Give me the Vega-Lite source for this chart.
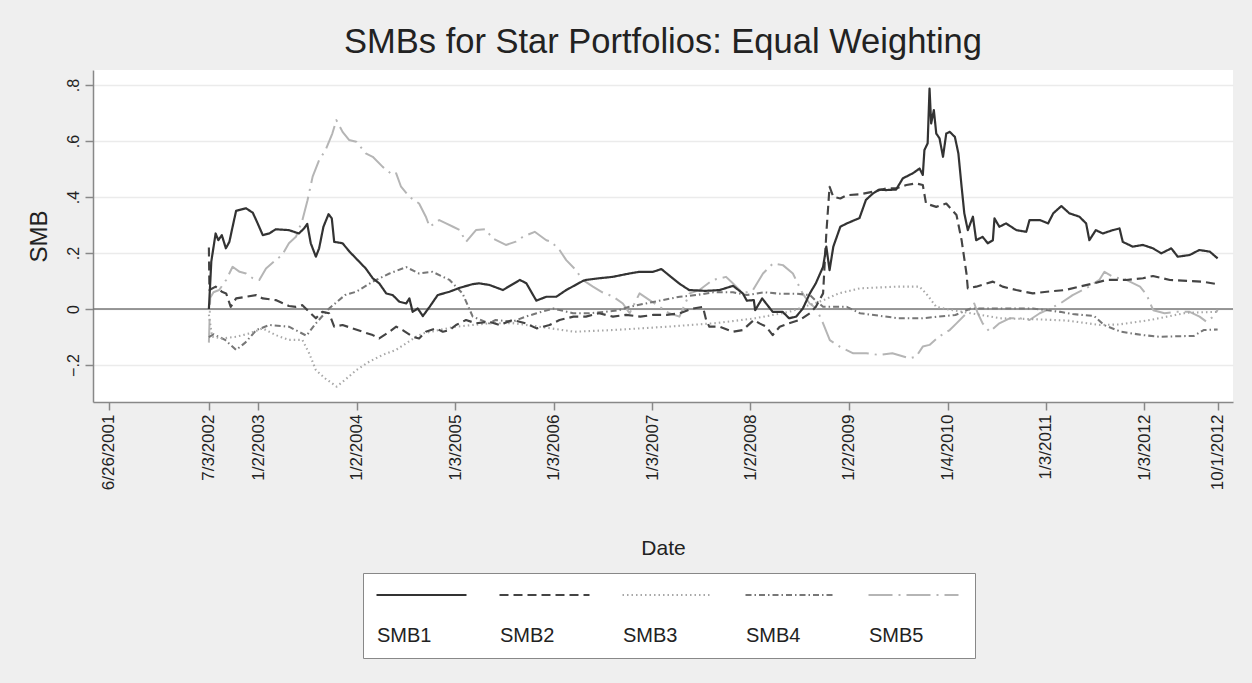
{
  "$schema": "https://vega.github.io/schema/vega-lite/v6.json",
  "width": 1140,
  "height": 332,
  "autosize": {"type": "none"},
  "padding": {"left": 93, "top": 70, "right": 19, "bottom": 281},
  "background": "#efefef",
  "config": {
    "view": {"fill": "white", "stroke": null},
    "font": "Liberation Sans"
  },
  "title": {
    "text": "SMBs for Star Portfolios: Equal Weighting",
    "fontSize": 34.5,
    "fontWeight": "normal",
    "color": "#222",
    "anchor": "middle",
    "offset": 10
  },
  "layer": [
    {
      "data": {"values": [{"smb": 0}]},
      "mark": {"type": "rule", "color": "#777", "strokeWidth": 1.6},
      "encoding": {"y": {"field": "smb", "type": "quantitative"}}
    },
    {
      "data": {
        "values": [
          {"series":"SMB5","date":"2002-07-03","smb":-0.12},
          {"series":"SMB5","date":"2002-07-08","smb":0.04},
          {"series":"SMB5","date":"2002-07-20","smb":0.06},
          {"series":"SMB5","date":"2002-08-10","smb":0.068},
          {"series":"SMB5","date":"2002-09-05","smb":0.104},
          {"series":"SMB5","date":"2002-09-29","smb":0.151},
          {"series":"SMB5","date":"2002-10-25","smb":0.133},
          {"series":"SMB5","date":"2002-11-18","smb":0.127},
          {"series":"SMB5","date":"2002-12-13","smb":0.11},
          {"series":"SMB5","date":"2003-01-06","smb":0.104},
          {"series":"SMB5","date":"2003-01-31","smb":0.145},
          {"series":"SMB5","date":"2003-03-08","smb":0.175},
          {"series":"SMB5","date":"2003-04-01","smb":0.193},
          {"series":"SMB5","date":"2003-04-26","smb":0.235},
          {"series":"SMB5","date":"2003-05-22","smb":0.258},
          {"series":"SMB5","date":"2003-06-15","smb":0.318},
          {"series":"SMB5","date":"2003-07-04","smb":0.389},
          {"series":"SMB5","date":"2003-07-23","smb":0.473},
          {"series":"SMB5","date":"2003-08-16","smb":0.532},
          {"series":"SMB5","date":"2003-09-09","smb":0.568},
          {"series":"SMB5","date":"2003-10-04","smb":0.627},
          {"series":"SMB5","date":"2003-10-19","smb":0.675},
          {"series":"SMB5","date":"2003-11-11","smb":0.633},
          {"series":"SMB5","date":"2003-12-05","smb":0.604},
          {"series":"SMB5","date":"2004-01-01","smb":0.598},
          {"series":"SMB5","date":"2004-02-05","smb":0.556},
          {"series":"SMB5","date":"2004-03-02","smb":0.544},
          {"series":"SMB5","date":"2004-04-08","smb":0.508},
          {"series":"SMB5","date":"2004-05-15","smb":0.479},
          {"series":"SMB5","date":"2004-05-28","smb":0.485},
          {"series":"SMB5","date":"2004-06-15","smb":0.437},
          {"series":"SMB5","date":"2004-07-16","smb":0.401},
          {"series":"SMB5","date":"2004-08-21","smb":0.377},
          {"series":"SMB5","date":"2004-09-15","smb":0.33},
          {"series":"SMB5","date":"2004-09-29","smb":0.294},
          {"series":"SMB5","date":"2004-11-04","smb":0.318},
          {"series":"SMB5","date":"2004-11-29","smb":0.306},
          {"series":"SMB5","date":"2004-12-25","smb":0.294},
          {"series":"SMB5","date":"2005-01-19","smb":0.282},
          {"series":"SMB5","date":"2005-02-11","smb":0.24},
          {"series":"SMB5","date":"2005-03-20","smb":0.282},
          {"series":"SMB5","date":"2005-04-25","smb":0.285},
          {"series":"SMB5","date":"2005-05-20","smb":0.253},
          {"series":"SMB5","date":"2005-07-09","smb":0.229},
          {"series":"SMB5","date":"2005-08-15","smb":0.241},
          {"series":"SMB5","date":"2005-09-10","smb":0.258},
          {"series":"SMB5","date":"2005-10-24","smb":0.276},
          {"series":"SMB5","date":"2005-12-06","smb":0.246},
          {"series":"SMB5","date":"2005-12-24","smb":0.241},
          {"series":"SMB5","date":"2006-01-24","smb":0.211},
          {"series":"SMB5","date":"2006-02-18","smb":0.175},
          {"series":"SMB5","date":"2006-03-26","smb":0.139},
          {"series":"SMB5","date":"2006-04-20","smb":0.104},
          {"series":"SMB5","date":"2006-05-28","smb":0.08},
          {"series":"SMB5","date":"2006-07-02","smb":0.06},
          {"series":"SMB5","date":"2006-08-10","smb":0.045},
          {"series":"SMB5","date":"2006-09-16","smb":0.02},
          {"series":"SMB5","date":"2006-10-11","smb":-0.015},
          {"series":"SMB5","date":"2006-11-17","smb":0.056},
          {"series":"SMB5","date":"2006-12-24","smb":0.032},
          {"series":"SMB5","date":"2007-01-31","smb":0.008},
          {"series":"SMB5","date":"2007-03-07","smb":-0.015},
          {"series":"SMB5","date":"2007-04-14","smb":-0.027},
          {"series":"SMB5","date":"2007-05-22","smb":0.056},
          {"series":"SMB5","date":"2007-06-27","smb":0.068},
          {"series":"SMB5","date":"2007-08-16","smb":0.104},
          {"series":"SMB5","date":"2007-10-04","smb":0.115},
          {"series":"SMB5","date":"2007-10-29","smb":0.092},
          {"series":"SMB5","date":"2007-12-06","smb":0.056},
          {"series":"SMB5","date":"2008-01-12","smb":0.068},
          {"series":"SMB5","date":"2008-02-18","smb":0.127},
          {"series":"SMB5","date":"2008-03-26","smb":0.163},
          {"series":"SMB5","date":"2008-05-02","smb":0.157},
          {"series":"SMB5","date":"2008-06-08","smb":0.127},
          {"series":"SMB5","date":"2008-07-14","smb":0.056},
          {"series":"SMB5","date":"2008-08-09","smb":0.02},
          {"series":"SMB5","date":"2008-09-03","smb":0.002},
          {"series":"SMB5","date":"2008-09-28","smb":-0.051},
          {"series":"SMB5","date":"2008-10-23","smb":-0.111},
          {"series":"SMB5","date":"2008-11-30","smb":-0.135},
          {"series":"SMB5","date":"2009-01-18","smb":-0.158},
          {"series":"SMB5","date":"2009-03-07","smb":-0.158},
          {"series":"SMB5","date":"2009-04-25","smb":-0.164},
          {"series":"SMB5","date":"2009-06-12","smb":-0.158},
          {"series":"SMB5","date":"2009-08-15","smb":-0.176},
          {"series":"SMB5","date":"2009-09-08","smb":-0.17},
          {"series":"SMB5","date":"2009-10-03","smb":-0.134},
          {"series":"SMB5","date":"2009-10-28","smb":-0.128},
          {"series":"SMB5","date":"2009-12-01","smb":-0.099},
          {"series":"SMB5","date":"2010-01-11","smb":-0.075},
          {"series":"SMB5","date":"2010-02-05","smb":-0.051},
          {"series":"SMB5","date":"2010-03-14","smb":-0.015},
          {"series":"SMB5","date":"2010-04-12","smb":0.02},
          {"series":"SMB5","date":"2010-04-25","smb":-0.015},
          {"series":"SMB5","date":"2010-05-13","smb":-0.051},
          {"series":"SMB5","date":"2010-06-08","smb":-0.081},
          {"series":"SMB5","date":"2010-07-14","smb":-0.051},
          {"series":"SMB5","date":"2010-08-21","smb":-0.033},
          {"series":"SMB5","date":"2010-09-28","smb":-0.033},
          {"series":"SMB5","date":"2010-11-03","smb":-0.039},
          {"series":"SMB5","date":"2010-12-11","smb":-0.015},
          {"series":"SMB5","date":"2011-01-18","smb":0.002},
          {"series":"SMB5","date":"2011-02-25","smb":0.02},
          {"series":"SMB5","date":"2011-04-12","smb":0.05},
          {"series":"SMB5","date":"2011-06-01","smb":0.074},
          {"series":"SMB5","date":"2011-07-20","smb":0.104},
          {"series":"SMB5","date":"2011-08-08","smb":0.133},
          {"series":"SMB5","date":"2011-09-08","smb":0.115},
          {"series":"SMB5","date":"2011-10-28","smb":0.104},
          {"series":"SMB5","date":"2011-12-18","smb":0.08},
          {"series":"SMB5","date":"2012-01-12","smb":0.05},
          {"series":"SMB5","date":"2012-01-25","smb":0.02},
          {"series":"SMB5","date":"2012-02-05","smb":-0.004},
          {"series":"SMB5","date":"2012-03-18","smb":-0.015},
          {"series":"SMB5","date":"2012-05-01","smb":-0.01},
          {"series":"SMB5","date":"2012-06-19","smb":-0.01},
          {"series":"SMB5","date":"2012-07-26","smb":-0.027},
          {"series":"SMB5","date":"2012-08-20","smb":-0.045},
          {"series":"SMB5","date":"2012-09-15","smb":-0.027},
          {"series":"SMB5","date":"2012-10-01","smb":-0.003},

          {"series":"SMB4","date":"2002-07-03","smb":-0.10},
          {"series":"SMB4","date":"2002-07-20","smb":-0.09},
          {"series":"SMB4","date":"2002-09-01","smb":-0.11},
          {"series":"SMB4","date":"2002-10-12","smb":-0.146},
          {"series":"SMB4","date":"2002-11-15","smb":-0.12},
          {"series":"SMB4","date":"2002-12-26","smb":-0.075},
          {"series":"SMB4","date":"2003-02-12","smb":-0.057},
          {"series":"SMB4","date":"2003-04-26","smb":-0.063},
          {"series":"SMB4","date":"2003-06-30","smb":-0.095},
          {"series":"SMB4","date":"2003-08-04","smb":-0.051},
          {"series":"SMB4","date":"2003-09-22","smb":0.002},
          {"series":"SMB4","date":"2003-11-20","smb":0.05},
          {"series":"SMB4","date":"2004-01-01","smb":0.062},
          {"series":"SMB4","date":"2004-03-02","smb":0.098},
          {"series":"SMB4","date":"2004-05-03","smb":0.127},
          {"series":"SMB4","date":"2004-07-04","smb":0.15},
          {"series":"SMB4","date":"2004-08-21","smb":0.127},
          {"series":"SMB4","date":"2004-10-10","smb":0.133},
          {"series":"SMB4","date":"2004-12-12","smb":0.104},
          {"series":"SMB4","date":"2005-01-29","smb":0.056},
          {"series":"SMB4","date":"2005-03-08","smb":-0.027},
          {"series":"SMB4","date":"2005-05-08","smb":-0.051},
          {"series":"SMB4","date":"2005-06-01","smb":-0.039},
          {"series":"SMB4","date":"2005-08-03","smb":-0.045},
          {"series":"SMB4","date":"2005-09-20","smb":-0.027},
          {"series":"SMB4","date":"2005-10-31","smb":-0.015},
          {"series":"SMB4","date":"2006-01-01","smb":0.002},
          {"series":"SMB4","date":"2006-03-15","smb":-0.015},
          {"series":"SMB4","date":"2006-05-15","smb":-0.015},
          {"series":"SMB4","date":"2006-07-12","smb":-0.01},
          {"series":"SMB4","date":"2006-09-01","smb":-0.004},
          {"series":"SMB4","date":"2006-10-10","smb":0.008},
          {"series":"SMB4","date":"2006-12-10","smb":0.02},
          {"series":"SMB4","date":"2007-02-10","smb":0.032},
          {"series":"SMB4","date":"2007-04-15","smb":0.044},
          {"series":"SMB4","date":"2007-06-15","smb":0.05},
          {"series":"SMB4","date":"2007-08-18","smb":0.06},
          {"series":"SMB4","date":"2007-10-30","smb":0.06},
          {"series":"SMB4","date":"2007-12-20","smb":0.05},
          {"series":"SMB4","date":"2008-02-20","smb":0.06},
          {"series":"SMB4","date":"2008-04-20","smb":0.055},
          {"series":"SMB4","date":"2008-06-20","smb":0.055},
          {"series":"SMB4","date":"2008-08-10","smb":0.05},
          {"series":"SMB4","date":"2008-09-01","smb":0.03},
          {"series":"SMB4","date":"2008-09-28","smb":0.008},
          {"series":"SMB4","date":"2008-11-05","smb":0.008},
          {"series":"SMB4","date":"2008-12-25","smb":0.008},
          {"series":"SMB4","date":"2009-02-12","smb":-0.015},
          {"series":"SMB4","date":"2009-07-05","smb":-0.033},
          {"series":"SMB4","date":"2009-10-01","smb":-0.033},
          {"series":"SMB4","date":"2009-12-01","smb":-0.027},
          {"series":"SMB4","date":"2010-02-01","smb":-0.021},
          {"series":"SMB4","date":"2010-03-30","smb":0.002},
          {"series":"SMB4","date":"2010-11-15","smb":0.002},
          {"series":"SMB4","date":"2011-02-25","smb":-0.01},
          {"series":"SMB4","date":"2011-04-12","smb":-0.018},
          {"series":"SMB4","date":"2011-07-01","smb":-0.025},
          {"series":"SMB4","date":"2011-08-06","smb":-0.057},
          {"series":"SMB4","date":"2011-10-08","smb":-0.081},
          {"series":"SMB4","date":"2011-12-29","smb":-0.093},
          {"series":"SMB4","date":"2012-03-01","smb":-0.099},
          {"series":"SMB4","date":"2012-05-12","smb":-0.097},
          {"series":"SMB4","date":"2012-07-05","smb":-0.096},
          {"series":"SMB4","date":"2012-08-10","smb":-0.075},
          {"series":"SMB4","date":"2012-10-01","smb":-0.073},

          {"series":"SMB3","date":"2002-07-03","smb":-0.02},
          {"series":"SMB3","date":"2002-07-15","smb":-0.099},
          {"series":"SMB3","date":"2002-08-20","smb":-0.105},
          {"series":"SMB3","date":"2002-10-12","smb":-0.099},
          {"series":"SMB3","date":"2002-12-01","smb":-0.087},
          {"series":"SMB3","date":"2003-01-19","smb":-0.069},
          {"series":"SMB3","date":"2003-03-08","smb":-0.093},
          {"series":"SMB3","date":"2003-04-26","smb":-0.11},
          {"series":"SMB3","date":"2003-06-15","smb":-0.11},
          {"series":"SMB3","date":"2003-07-10","smb":-0.158},
          {"series":"SMB3","date":"2003-08-04","smb":-0.218},
          {"series":"SMB3","date":"2003-09-08","smb":-0.248},
          {"series":"SMB3","date":"2003-10-20","smb":-0.277},
          {"series":"SMB3","date":"2003-11-20","smb":-0.253},
          {"series":"SMB3","date":"2004-01-01","smb":-0.218},
          {"series":"SMB3","date":"2004-02-18","smb":-0.188},
          {"series":"SMB3","date":"2004-04-07","smb":-0.164},
          {"series":"SMB3","date":"2004-05-27","smb":-0.146},
          {"series":"SMB3","date":"2004-07-03","smb":-0.123},
          {"series":"SMB3","date":"2004-08-09","smb":-0.099},
          {"series":"SMB3","date":"2004-09-04","smb":-0.087},
          {"series":"SMB3","date":"2004-11-03","smb":-0.075},
          {"series":"SMB3","date":"2005-01-03","smb":-0.063},
          {"series":"SMB3","date":"2005-03-07","smb":-0.057},
          {"series":"SMB3","date":"2005-05-08","smb":-0.051},
          {"series":"SMB3","date":"2005-08-01","smb":-0.05},
          {"series":"SMB3","date":"2005-11-10","smb":-0.063},
          {"series":"SMB3","date":"2006-03-20","smb":-0.081},
          {"series":"SMB3","date":"2006-08-10","smb":-0.075},
          {"series":"SMB3","date":"2007-03-01","smb":-0.063},
          {"series":"SMB3","date":"2007-08-30","smb":-0.05},
          {"series":"SMB3","date":"2008-01-20","smb":-0.033},
          {"series":"SMB3","date":"2008-05-25","smb":-0.01},
          {"series":"SMB3","date":"2008-09-25","smb":0.03},
          {"series":"SMB3","date":"2008-11-25","smb":0.056},
          {"series":"SMB3","date":"2009-02-12","smb":0.074},
          {"series":"SMB3","date":"2009-06-26","smb":0.08},
          {"series":"SMB3","date":"2009-09-21","smb":0.08},
          {"series":"SMB3","date":"2009-10-15","smb":0.056},
          {"series":"SMB3","date":"2009-11-22","smb":0.008},
          {"series":"SMB3","date":"2009-12-29","smb":0.0},
          {"series":"SMB3","date":"2010-04-01","smb":-0.015},
          {"series":"SMB3","date":"2010-07-17","smb":-0.033},
          {"series":"SMB3","date":"2010-11-15","smb":-0.036},
          {"series":"SMB3","date":"2011-03-22","smb":-0.041},
          {"series":"SMB3","date":"2011-07-24","smb":-0.057},
          {"series":"SMB3","date":"2011-10-01","smb":-0.055},
          {"series":"SMB3","date":"2012-01-25","smb":-0.039},
          {"series":"SMB3","date":"2012-06-09","smb":-0.013},
          {"series":"SMB3","date":"2012-10-01","smb":-0.01},

          {"series":"SMB2","date":"2002-07-03","smb":0.22},
          {"series":"SMB2","date":"2002-07-05","smb":0.068},
          {"series":"SMB2","date":"2002-07-28","smb":0.08},
          {"series":"SMB2","date":"2002-08-20","smb":0.062},
          {"series":"SMB2","date":"2002-09-05","smb":0.056},
          {"series":"SMB2","date":"2002-09-22","smb":0.008},
          {"series":"SMB2","date":"2002-10-12","smb":0.038},
          {"series":"SMB2","date":"2002-11-18","smb":0.044},
          {"series":"SMB2","date":"2002-12-26","smb":0.05},
          {"series":"SMB2","date":"2003-01-19","smb":0.038},
          {"series":"SMB2","date":"2003-03-08","smb":0.032},
          {"series":"SMB2","date":"2003-04-26","smb":0.011},
          {"series":"SMB2","date":"2003-05-22","smb":0.008},
          {"series":"SMB2","date":"2003-06-15","smb":0.014},
          {"series":"SMB2","date":"2003-07-10","smb":-0.01},
          {"series":"SMB2","date":"2003-08-04","smb":-0.033},
          {"series":"SMB2","date":"2003-08-28","smb":-0.01},
          {"series":"SMB2","date":"2003-09-22","smb":-0.015},
          {"series":"SMB2","date":"2003-10-11","smb":-0.063},
          {"series":"SMB2","date":"2003-11-11","smb":-0.057},
          {"series":"SMB2","date":"2003-12-18","smb":-0.069},
          {"series":"SMB2","date":"2004-01-24","smb":-0.081},
          {"series":"SMB2","date":"2004-03-02","smb":-0.093},
          {"series":"SMB2","date":"2004-03-26","smb":-0.105},
          {"series":"SMB2","date":"2004-05-03","smb":-0.081},
          {"series":"SMB2","date":"2004-05-28","smb":-0.063},
          {"series":"SMB2","date":"2004-06-21","smb":-0.075},
          {"series":"SMB2","date":"2004-07-28","smb":-0.099},
          {"series":"SMB2","date":"2004-08-21","smb":-0.105},
          {"series":"SMB2","date":"2004-09-15","smb":-0.081},
          {"series":"SMB2","date":"2004-10-23","smb":-0.069},
          {"series":"SMB2","date":"2004-11-17","smb":-0.081},
          {"series":"SMB2","date":"2004-12-12","smb":-0.075},
          {"series":"SMB2","date":"2005-01-05","smb":-0.057},
          {"series":"SMB2","date":"2005-02-11","smb":-0.039},
          {"series":"SMB2","date":"2005-03-20","smb":-0.051},
          {"series":"SMB2","date":"2005-05-08","smb":-0.045},
          {"series":"SMB2","date":"2005-06-15","smb":-0.057},
          {"series":"SMB2","date":"2005-08-03","smb":-0.039},
          {"series":"SMB2","date":"2005-09-20","smb":-0.051},
          {"series":"SMB2","date":"2005-10-31","smb":-0.069},
          {"series":"SMB2","date":"2005-12-18","smb":-0.057},
          {"series":"SMB2","date":"2006-01-24","smb":-0.039},
          {"series":"SMB2","date":"2006-03-17","smb":-0.027},
          {"series":"SMB2","date":"2006-05-02","smb":-0.027},
          {"series":"SMB2","date":"2006-06-20","smb":-0.015},
          {"series":"SMB2","date":"2006-08-10","smb":-0.027},
          {"series":"SMB2","date":"2006-09-28","smb":-0.021},
          {"series":"SMB2","date":"2006-11-20","smb":-0.027},
          {"series":"SMB2","date":"2007-01-05","smb":-0.021},
          {"series":"SMB2","date":"2007-02-25","smb":-0.021},
          {"series":"SMB2","date":"2007-04-15","smb":-0.015},
          {"series":"SMB2","date":"2007-06-03","smb":0.002},
          {"series":"SMB2","date":"2007-07-10","smb":0.008},
          {"series":"SMB2","date":"2007-07-22","smb":-0.039},
          {"series":"SMB2","date":"2007-08-03","smb":-0.063},
          {"series":"SMB2","date":"2007-09-10","smb":-0.063},
          {"series":"SMB2","date":"2007-10-30","smb":-0.081},
          {"series":"SMB2","date":"2007-12-05","smb":-0.075},
          {"series":"SMB2","date":"2008-01-15","smb":-0.039},
          {"series":"SMB2","date":"2008-02-05","smb":-0.051},
          {"series":"SMB2","date":"2008-03-01","smb":-0.063},
          {"series":"SMB2","date":"2008-03-25","smb":-0.093},
          {"series":"SMB2","date":"2008-04-20","smb":-0.063},
          {"series":"SMB2","date":"2008-05-25","smb":-0.051},
          {"series":"SMB2","date":"2008-07-03","smb":-0.039},
          {"series":"SMB2","date":"2008-08-10","smb":-0.015},
          {"series":"SMB2","date":"2008-09-01","smb":0.008},
          {"series":"SMB2","date":"2008-09-28","smb":0.056},
          {"series":"SMB2","date":"2008-10-10","smb":0.27},
          {"series":"SMB2","date":"2008-10-22","smb":0.437},
          {"series":"SMB2","date":"2008-11-05","smb":0.401},
          {"series":"SMB2","date":"2008-12-01","smb":0.395},
          {"series":"SMB2","date":"2008-12-25","smb":0.407},
          {"series":"SMB2","date":"2009-02-12","smb":0.41},
          {"series":"SMB2","date":"2009-04-01","smb":0.419},
          {"series":"SMB2","date":"2009-05-19","smb":0.431},
          {"series":"SMB2","date":"2009-06-26","smb":0.431},
          {"series":"SMB2","date":"2009-08-03","smb":0.443},
          {"series":"SMB2","date":"2009-09-08","smb":0.449},
          {"series":"SMB2","date":"2009-10-03","smb":0.443},
          {"series":"SMB2","date":"2009-10-15","smb":0.377},
          {"series":"SMB2","date":"2009-11-22","smb":0.365},
          {"series":"SMB2","date":"2009-12-29","smb":0.377},
          {"series":"SMB2","date":"2010-02-05","smb":0.336},
          {"series":"SMB2","date":"2010-02-24","smb":0.246},
          {"series":"SMB2","date":"2010-03-14","smb":0.127},
          {"series":"SMB2","date":"2010-03-19","smb":0.074},
          {"series":"SMB2","date":"2010-04-19","smb":0.08},
          {"series":"SMB2","date":"2010-06-20","smb":0.098},
          {"series":"SMB2","date":"2010-07-26","smb":0.08},
          {"series":"SMB2","date":"2010-09-15","smb":0.068},
          {"series":"SMB2","date":"2010-11-15","smb":0.056},
          {"series":"SMB2","date":"2011-01-06","smb":0.062},
          {"series":"SMB2","date":"2011-03-16","smb":0.068},
          {"series":"SMB2","date":"2011-05-07","smb":0.08},
          {"series":"SMB2","date":"2011-07-01","smb":0.092},
          {"series":"SMB2","date":"2011-08-15","smb":0.104},
          {"series":"SMB2","date":"2011-10-28","smb":0.104},
          {"series":"SMB2","date":"2011-12-29","smb":0.11},
          {"series":"SMB2","date":"2012-02-04","smb":0.118},
          {"series":"SMB2","date":"2012-04-07","smb":0.104},
          {"series":"SMB2","date":"2012-06-19","smb":0.1},
          {"series":"SMB2","date":"2012-08-05","smb":0.098},
          {"series":"SMB2","date":"2012-10-01","smb":0.089},

          {"series":"SMB1","date":"2002-07-03","smb":0.0},
          {"series":"SMB1","date":"2002-07-12","smb":0.17},
          {"series":"SMB1","date":"2002-07-28","smb":0.27},
          {"series":"SMB1","date":"2002-08-07","smb":0.246},
          {"series":"SMB1","date":"2002-08-20","smb":0.264},
          {"series":"SMB1","date":"2002-09-04","smb":0.217},
          {"series":"SMB1","date":"2002-09-17","smb":0.24},
          {"series":"SMB1","date":"2002-09-29","smb":0.294},
          {"series":"SMB1","date":"2002-10-12","smb":0.351},
          {"series":"SMB1","date":"2002-11-18","smb":0.36},
          {"series":"SMB1","date":"2002-12-13","smb":0.344},
          {"series":"SMB1","date":"2002-12-31","smb":0.306},
          {"series":"SMB1","date":"2003-01-19","smb":0.264},
          {"series":"SMB1","date":"2003-02-12","smb":0.27},
          {"series":"SMB1","date":"2003-03-08","smb":0.285},
          {"series":"SMB1","date":"2003-04-26","smb":0.282},
          {"series":"SMB1","date":"2003-06-02","smb":0.27},
          {"series":"SMB1","date":"2003-06-21","smb":0.288},
          {"series":"SMB1","date":"2003-07-03","smb":0.304},
          {"series":"SMB1","date":"2003-07-16","smb":0.235},
          {"series":"SMB1","date":"2003-08-04","smb":0.187},
          {"series":"SMB1","date":"2003-08-16","smb":0.217},
          {"series":"SMB1","date":"2003-09-01","smb":0.294},
          {"series":"SMB1","date":"2003-09-20","smb":0.339},
          {"series":"SMB1","date":"2003-10-02","smb":0.324},
          {"series":"SMB1","date":"2003-10-11","smb":0.24},
          {"series":"SMB1","date":"2003-11-11","smb":0.235},
          {"series":"SMB1","date":"2003-12-07","smb":0.205},
          {"series":"SMB1","date":"2004-01-12","smb":0.169},
          {"series":"SMB1","date":"2004-02-05","smb":0.145},
          {"series":"SMB1","date":"2004-03-02","smb":0.11},
          {"series":"SMB1","date":"2004-03-26","smb":0.092},
          {"series":"SMB1","date":"2004-04-21","smb":0.056},
          {"series":"SMB1","date":"2004-05-15","smb":0.05},
          {"series":"SMB1","date":"2004-06-09","smb":0.026},
          {"series":"SMB1","date":"2004-07-04","smb":0.02},
          {"series":"SMB1","date":"2004-07-16","smb":0.038},
          {"series":"SMB1","date":"2004-07-28","smb":-0.01},
          {"series":"SMB1","date":"2004-08-16","smb":0.002},
          {"series":"SMB1","date":"2004-09-04","smb":-0.025},
          {"series":"SMB1","date":"2004-09-29","smb":0.008},
          {"series":"SMB1","date":"2004-10-29","smb":0.05},
          {"series":"SMB1","date":"2004-12-12","smb":0.062},
          {"series":"SMB1","date":"2005-01-19","smb":0.076},
          {"series":"SMB1","date":"2005-03-08","smb":0.089},
          {"series":"SMB1","date":"2005-04-01","smb":0.092},
          {"series":"SMB1","date":"2005-05-09","smb":0.086},
          {"series":"SMB1","date":"2005-06-28","smb":0.068},
          {"series":"SMB1","date":"2005-08-30","smb":0.104},
          {"series":"SMB1","date":"2005-09-23","smb":0.092},
          {"series":"SMB1","date":"2005-10-30","smb":0.03},
          {"series":"SMB1","date":"2005-12-06","smb":0.044},
          {"series":"SMB1","date":"2006-01-12","smb":0.044},
          {"series":"SMB1","date":"2006-02-18","smb":0.068},
          {"series":"SMB1","date":"2006-04-20","smb":0.1},
          {"series":"SMB1","date":"2006-05-02","smb":0.104},
          {"series":"SMB1","date":"2006-06-20","smb":0.11},
          {"series":"SMB1","date":"2006-08-09","smb":0.115},
          {"series":"SMB1","date":"2006-10-10","smb":0.127},
          {"series":"SMB1","date":"2006-11-16","smb":0.133},
          {"series":"SMB1","date":"2007-01-06","smb":0.133},
          {"series":"SMB1","date":"2007-02-06","smb":0.143},
          {"series":"SMB1","date":"2007-03-07","smb":0.12},
          {"series":"SMB1","date":"2007-04-15","smb":0.09},
          {"series":"SMB1","date":"2007-05-20","smb":0.068},
          {"series":"SMB1","date":"2007-07-20","smb":0.065},
          {"series":"SMB1","date":"2007-09-10","smb":0.068},
          {"series":"SMB1","date":"2007-10-30","smb":0.083},
          {"series":"SMB1","date":"2007-12-05","smb":0.056},
          {"series":"SMB1","date":"2007-12-20","smb":0.03},
          {"series":"SMB1","date":"2008-01-15","smb":0.032},
          {"series":"SMB1","date":"2008-01-20","smb":-0.004},
          {"series":"SMB1","date":"2008-02-15","smb":0.038},
          {"series":"SMB1","date":"2008-03-25","smb":-0.01},
          {"series":"SMB1","date":"2008-05-01","smb":-0.01},
          {"series":"SMB1","date":"2008-05-25","smb":-0.033},
          {"series":"SMB1","date":"2008-06-20","smb":-0.027},
          {"series":"SMB1","date":"2008-07-15","smb":0.002},
          {"series":"SMB1","date":"2008-08-10","smb":0.056},
          {"series":"SMB1","date":"2008-09-01","smb":0.092},
          {"series":"SMB1","date":"2008-09-28","smb":0.151},
          {"series":"SMB1","date":"2008-10-10","smb":0.223},
          {"series":"SMB1","date":"2008-10-22","smb":0.139},
          {"series":"SMB1","date":"2008-11-05","smb":0.223},
          {"series":"SMB1","date":"2008-12-01","smb":0.294},
          {"series":"SMB1","date":"2008-12-25","smb":0.306},
          {"series":"SMB1","date":"2009-02-10","smb":0.325},
          {"series":"SMB1","date":"2009-03-06","smb":0.39},
          {"series":"SMB1","date":"2009-04-01","smb":0.413},
          {"series":"SMB1","date":"2009-04-25","smb":0.427},
          {"series":"SMB1","date":"2009-05-19","smb":0.425},
          {"series":"SMB1","date":"2009-06-26","smb":0.427},
          {"series":"SMB1","date":"2009-07-21","smb":0.467},
          {"series":"SMB1","date":"2009-08-27","smb":0.485},
          {"series":"SMB1","date":"2009-09-21","smb":0.502},
          {"series":"SMB1","date":"2009-10-03","smb":0.479},
          {"series":"SMB1","date":"2009-10-09","smb":0.568},
          {"series":"SMB1","date":"2009-10-21","smb":0.592},
          {"series":"SMB1","date":"2009-10-28","smb":0.788},
          {"series":"SMB1","date":"2009-11-03","smb":0.663},
          {"series":"SMB1","date":"2009-11-13","smb":0.711},
          {"series":"SMB1","date":"2009-11-22","smb":0.627},
          {"series":"SMB1","date":"2009-12-04","smb":0.61},
          {"series":"SMB1","date":"2009-12-17","smb":0.544},
          {"series":"SMB1","date":"2009-12-29","smb":0.627},
          {"series":"SMB1","date":"2010-01-11","smb":0.633},
          {"series":"SMB1","date":"2010-01-30","smb":0.615},
          {"series":"SMB1","date":"2010-02-12","smb":0.556},
          {"series":"SMB1","date":"2010-02-24","smb":0.437},
          {"series":"SMB1","date":"2010-03-06","smb":0.342},
          {"series":"SMB1","date":"2010-03-19","smb":0.282},
          {"series":"SMB1","date":"2010-04-07","smb":0.33},
          {"series":"SMB1","date":"2010-04-19","smb":0.246},
          {"series":"SMB1","date":"2010-05-13","smb":0.258},
          {"series":"SMB1","date":"2010-06-01","smb":0.235},
          {"series":"SMB1","date":"2010-06-20","smb":0.246},
          {"series":"SMB1","date":"2010-06-26","smb":0.324},
          {"series":"SMB1","date":"2010-07-14","smb":0.294},
          {"series":"SMB1","date":"2010-08-08","smb":0.306},
          {"series":"SMB1","date":"2010-09-15","smb":0.282},
          {"series":"SMB1","date":"2010-10-22","smb":0.276},
          {"series":"SMB1","date":"2010-11-03","smb":0.318},
          {"series":"SMB1","date":"2010-12-11","smb":0.318},
          {"series":"SMB1","date":"2011-01-11","smb":0.306},
          {"series":"SMB1","date":"2011-01-30","smb":0.342},
          {"series":"SMB1","date":"2011-03-01","smb":0.368},
          {"series":"SMB1","date":"2011-03-31","smb":0.342},
          {"series":"SMB1","date":"2011-05-07","smb":0.33},
          {"series":"SMB1","date":"2011-06-01","smb":0.306},
          {"series":"SMB1","date":"2011-06-13","smb":0.246},
          {"series":"SMB1","date":"2011-07-07","smb":0.282},
          {"series":"SMB1","date":"2011-08-02","smb":0.27},
          {"series":"SMB1","date":"2011-09-08","smb":0.282},
          {"series":"SMB1","date":"2011-10-03","smb":0.288},
          {"series":"SMB1","date":"2011-10-15","smb":0.24},
          {"series":"SMB1","date":"2011-11-21","smb":0.223},
          {"series":"SMB1","date":"2011-12-29","smb":0.229},
          {"series":"SMB1","date":"2012-02-04","smb":0.217},
          {"series":"SMB1","date":"2012-03-06","smb":0.199},
          {"series":"SMB1","date":"2012-04-12","smb":0.217},
          {"series":"SMB1","date":"2012-05-06","smb":0.187},
          {"series":"SMB1","date":"2012-06-19","smb":0.193},
          {"series":"SMB1","date":"2012-07-25","smb":0.211},
          {"series":"SMB1","date":"2012-09-02","smb":0.205},
          {"series":"SMB1","date":"2012-10-01","smb":0.181}
        ]
      },
      "mark": {"type": "line", "strokeJoin": "round"},
      "encoding": {
        "x": {
          "field": "date",
          "type": "temporal",
          "scale": {
            "type": "utc",
            "domain": [
              {"year": 2001, "month": 4, "date": 29, "utc": true},
              {"year": 2012, "month": 11, "date": 27, "utc": true}
            ]
          },
          "axis": {
            "title": "Date",
            "titleFontSize": 21,
            "titleFontWeight": "normal",
            "titleColor": "#222",
            "titlePadding": 48,
            "values": [
              {"year": 2001, "month": 6, "date": 26, "utc": true},
              {"year": 2002, "month": 7, "date": 3, "utc": true},
              {"year": 2003, "month": 1, "date": 2, "utc": true},
              {"year": 2004, "month": 1, "date": 2, "utc": true},
              {"year": 2005, "month": 1, "date": 3, "utc": true},
              {"year": 2006, "month": 1, "date": 3, "utc": true},
              {"year": 2007, "month": 1, "date": 3, "utc": true},
              {"year": 2008, "month": 1, "date": 2, "utc": true},
              {"year": 2009, "month": 1, "date": 2, "utc": true},
              {"year": 2010, "month": 1, "date": 4, "utc": true},
              {"year": 2011, "month": 1, "date": 3, "utc": true},
              {"year": 2012, "month": 1, "date": 3, "utc": true},
              {"year": 2012, "month": 10, "date": 1, "utc": true}
            ],
            "labelExpr": "utcFormat(datum.value, '%-m/%-d/%Y')",
            "labelAngle": -90,
            "labelAlign": "right",
            "labelBaseline": "middle",
            "labelFontSize": 17,
            "labelColor": "#222",
            "labelPadding": 4,
            "labelOverlap": false,
            "labelFlush": false,
            "tickSize": 8,
            "tickColor": "#888",
            "tickWidth": 1.5,
            "domainColor": "#888",
            "domainWidth": 1.5,
            "grid": false
          }
        },
        "y": {
          "field": "smb",
          "type": "quantitative",
          "scale": {"domain": [-0.332, 0.854], "nice": false, "zero": false},
          "axis": {
            "title": "SMB",
            "titleFontSize": 24,
            "titleFontWeight": "normal",
            "titleColor": "#222",
            "titlePadding": 14,
            "values": [-0.2, 0, 0.2, 0.4, 0.6, 0.8],
            "labelExpr": "datum.value == 0 ? '0' : replace(format(datum.value, '.1f'), '0.', '.')",
            "labelAngle": -90,
            "labelAlign": "center",
            "labelBaseline": "bottom",
            "labelFontSize": 16,
            "labelColor": "#222",
            "labelPadding": 4,
            "tickSize": 8,
            "tickColor": "#888",
            "tickWidth": 1.5,
            "domainColor": "#888",
            "domainWidth": 1.5,
            "grid": true,
            "gridColor": "#ebebeb",
            "gridWidth": 1.5
          }
        },
        "color": {
          "field": "series",
          "type": "nominal",
          "scale": {
            "domain": ["SMB1", "SMB2", "SMB3", "SMB4", "SMB5"],
            "range": ["#333333", "#444444", "#a8a8a8", "#777777", "#b5b5b5"]
          },
          "legend": {
            "title": null,
            "orient": "none",
            "legendX": 270,
            "legendY": 503,
            "direction": "horizontal",
            "columns": 5,
            "columnPadding": 24,
            "symbolType": "stroke",
            "symbolSize": 8100,
            "symbolStrokeWidth": 1.5,
            "labelOffset": -91,
            "labelFontSize": 20,
            "labelColor": "#222",
            "labelAlign": "left",
            "padding": 12,
            "strokeColor": "#888",
            "fillColor": "white",
            "encoding": {
              "symbols": {"y": {"value": 10}},
              "labels": {"y": {"value": 51}}
            }
          }
        },
        "strokeDash": {
          "field": "series",
          "type": "nominal",
          "scale": {
            "domain": ["SMB1", "SMB2", "SMB3", "SMB4", "SMB5"],
            "range": [[1, 0], [9, 5], [1.5, 3], [6, 3, 1.5, 3], [24, 6, 2, 6]]
          },
          "legend": {
            "title": null,
            "orient": "none",
            "legendX": 270,
            "legendY": 503,
            "direction": "horizontal",
            "columns": 5,
            "columnPadding": 24,
            "symbolType": "stroke",
            "symbolSize": 8100,
            "symbolStrokeWidth": 1.5,
            "labelOffset": -91,
            "labelFontSize": 20,
            "labelColor": "#222",
            "labelAlign": "left",
            "padding": 12,
            "strokeColor": "#888",
            "fillColor": "white",
            "encoding": {
              "symbols": {"y": {"value": 10}},
              "labels": {"y": {"value": 51}}
            }
          }
        },
        "strokeWidth": {
          "field": "series",
          "type": "nominal",
          "scale": {
            "domain": ["SMB1", "SMB2", "SMB3", "SMB4", "SMB5"],
            "range": [2.2, 2, 1.6, 1.6, 1.6]
          },
          "legend": null
        }
      }
    }
  ]
}
